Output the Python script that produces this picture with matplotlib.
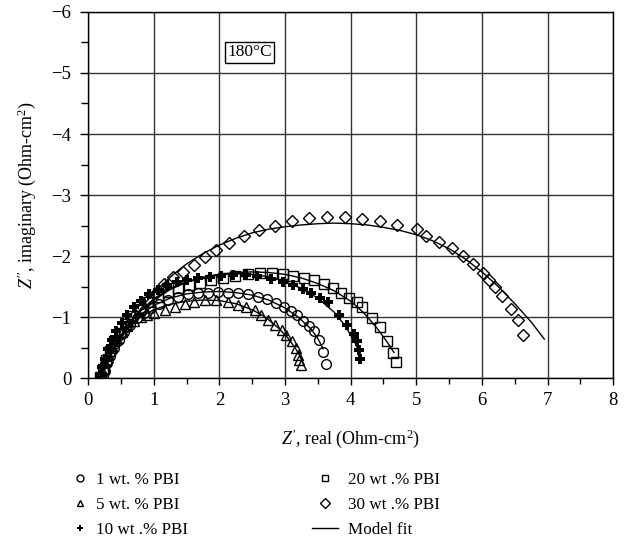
import matplotlib
matplotlib.use("Agg")
import matplotlib.pyplot as plt
from matplotlib.ticker import MultipleLocator
from matplotlib.lines import Line2D

plt.rcParams['font.family'] = ['Liberation Serif', 'DejaVu Serif']
plt.rcParams['mathtext.fontset'] = 'custom'
plt.rcParams['mathtext.rm'] = 'Liberation Serif'
plt.rcParams['mathtext.it'] = 'Liberation Serif:italic'

# ---- data (Z' real, Z'' imaginary), Ohm-cm^2 ----
x1 = [0.22,0.25,0.29,0.34,0.40,0.47,0.55,0.64,0.74,0.85,0.96,1.08,1.22,1.37,1.52,1.67,1.83,1.98,2.13,2.28,2.44,2.59,2.72,2.87,2.99,3.09,3.19,3.28,3.36,3.44,3.52,3.58,3.63]
y1 = [-0.02,-0.12,-0.24,-0.37,-0.50,-0.63,-0.75,-0.87,-0.98,-1.07,-1.15,-1.22,-1.28,-1.33,-1.37,-1.39,-1.40,-1.41,-1.40,-1.39,-1.37,-1.33,-1.29,-1.23,-1.17,-1.10,-1.03,-0.94,-0.86,-0.77,-0.62,-0.43,-0.23]

x5 = [0.18,0.21,0.25,0.30,0.36,0.43,0.51,0.60,0.70,0.80,0.90,1.01,1.17,1.32,1.47,1.62,1.78,1.95,2.13,2.28,2.41,2.54,2.64,2.74,2.84,2.95,3.02,3.10,3.16,3.20,3.22,3.25]
y5 = [-0.03,-0.14,-0.27,-0.40,-0.53,-0.65,-0.76,-0.86,-0.94,-1.00,-1.04,-1.06,-1.11,-1.17,-1.22,-1.25,-1.28,-1.28,-1.25,-1.20,-1.16,-1.11,-1.04,-0.96,-0.87,-0.79,-0.70,-0.60,-0.49,-0.38,-0.30,-0.21]

x10 = [0.18,0.21,0.25,0.30,0.36,0.43,0.51,0.60,0.70,0.81,0.93,1.06,1.20,1.35,1.51,1.68,1.85,2.03,2.21,2.40,2.58,2.78,2.97,3.12,3.27,3.40,3.53,3.66,3.82,3.95,4.05,4.10,4.13,4.15]
y10 = [-0.05,-0.18,-0.32,-0.47,-0.62,-0.77,-0.91,-1.04,-1.16,-1.27,-1.37,-1.45,-1.52,-1.57,-1.61,-1.64,-1.66,-1.68,-1.69,-1.69,-1.67,-1.63,-1.58,-1.52,-1.46,-1.39,-1.32,-1.24,-1.04,-0.87,-0.72,-0.60,-0.46,-0.31]

x20 = [0.18,0.22,0.27,0.33,0.40,0.48,0.57,0.67,0.79,0.92,1.06,1.21,1.37,1.53,1.70,1.87,2.05,2.24,2.43,2.62,2.80,2.97,3.12,3.29,3.44,3.59,3.73,3.86,3.98,4.09,4.17,4.33,4.44,4.55,4.65,4.69]
y20 = [-0.02,-0.15,-0.30,-0.45,-0.60,-0.74,-0.88,-1.01,-1.13,-1.24,-1.33,-1.41,-1.47,-1.52,-1.56,-1.60,-1.64,-1.67,-1.70,-1.72,-1.72,-1.70,-1.68,-1.64,-1.60,-1.54,-1.48,-1.40,-1.32,-1.24,-1.16,-0.99,-0.83,-0.61,-0.41,-0.26]

x30 = [0.20,0.24,0.29,0.35,0.42,0.50,0.59,0.69,0.80,0.92,1.03,1.15,1.29,1.45,1.61,1.78,1.95,2.14,2.37,2.60,2.84,3.10,3.36,3.64,3.91,4.18,4.44,4.70,5.01,5.15,5.35,5.55,5.71,5.87,6.01,6.11,6.20,6.30,6.44,6.55,6.63]
y30 = [0.00,-0.12,-0.27,-0.42,-0.57,-0.72,-0.86,-1.00,-1.14,-1.28,-1.40,-1.54,-1.66,-1.74,-1.85,-1.98,-2.10,-2.22,-2.33,-2.43,-2.50,-2.57,-2.62,-2.64,-2.64,-2.61,-2.57,-2.51,-2.45,-2.33,-2.23,-2.13,-2.00,-1.87,-1.73,-1.61,-1.50,-1.34,-1.14,-0.95,-0.70]

# model fit curves
fx1 = [0.2,0.3,0.45,0.6,0.8,1.0,1.25,1.5,1.75,2.0,2.25,2.5,2.75,3.0,3.2,3.4,3.5,3.58]
fy1 = [0,-0.28,-0.58,-0.82,-1.04,-1.19,-1.31,-1.38,-1.41,-1.42,-1.40,-1.36,-1.28,-1.15,-1.0,-0.80,-0.65,-0.48]
fx5 = [0.18,0.3,0.45,0.6,0.8,1.0,1.25,1.5,1.75,2.0,2.25,2.5,2.7,2.9,3.05,3.15,3.22,3.26]
fy5 = [0,-0.3,-0.58,-0.8,-1.0,-1.12,-1.21,-1.26,-1.28,-1.27,-1.22,-1.12,-1.0,-0.82,-0.65,-0.50,-0.38,-0.28]
fx10 = [0.18,0.3,0.45,0.6,0.8,1.0,1.25,1.5,1.75,2.0,2.25,2.5,2.75,3.0,3.25,3.5,3.75,3.9,4.05,4.13]
fy10 = [0,-0.32,-0.62,-0.87,-1.1,-1.3,-1.47,-1.58,-1.65,-1.70,-1.71,-1.70,-1.66,-1.58,-1.47,-1.31,-1.08,-0.88,-0.62,-0.42]
fx20 = [0.18,0.3,0.45,0.6,0.8,1.0,1.25,1.5,1.75,2.0,2.25,2.5,2.75,3.0,3.25,3.5,3.75,4.0,4.2,4.4,4.55,4.66]
fy20 = [0,-0.3,-0.6,-0.85,-1.1,-1.28,-1.45,-1.57,-1.65,-1.70,-1.73,-1.74,-1.73,-1.70,-1.64,-1.55,-1.43,-1.26,-1.07,-0.82,-0.60,-0.42]
fx30 = [0.18,0.25,0.35,0.5,0.7,0.9,1.1,1.3,1.5,1.75,2.0,2.25,2.5,2.75,3.0,3.25,3.5,3.75,4.0,4.25,4.5,4.75,5.0,5.25,5.5,5.75,6.0,6.25,6.5,6.75,6.95]
fy30 = [0,-0.15,-0.38,-0.68,-1.0,-1.27,-1.50,-1.70,-1.87,-2.04,-2.18,-2.29,-2.38,-2.44,-2.48,-2.51,-2.53,-2.54,-2.53,-2.51,-2.47,-2.42,-2.35,-2.25,-2.12,-1.95,-1.74,-1.5,-1.22,-0.92,-0.64]

labels = ['1 wt. % PBI', '5 wt. % PBI', '10 wt .% PBI', '20 wt .% PBI', '30 wt .% PBI', 'Model fit']

fig = plt.figure(figsize=(6.27, 5.44), dpi=100)
ax = fig.add_axes([0.1405, 0.305, 0.8375, 0.673])

for fx, fy in [(fx1, fy1), (fx5, fy5), (fx10, fy10), (fx20, fy20), (fx30, fy30)]:
    ax.plot(fx, fy, color='black', lw=1.0, zorder=3)

mk = dict(linestyle='none', markerfacecolor='none', markeredgecolor='black', markeredgewidth=1.0, zorder=4)
ax.plot(x1, y1, marker='o', markersize=7, **mk)
ax.plot(x5, y5, marker='^', markersize=7, **mk)
ax.plot(x10, y10, marker='P', markersize=6.5, linestyle='none', color='black', markeredgewidth=0, zorder=4)
ax.plot(x20, y20, marker='s', markersize=6.5, **mk)
ax.plot(x30, y30, marker='D', markersize=6.5, **mk)

ax.set_xlim(0, 8)
ax.set_ylim(0, -6)
ax.xaxis.set_major_locator(MultipleLocator(1))
ax.xaxis.set_minor_locator(MultipleLocator(0.5))
ax.yaxis.set_major_locator(MultipleLocator(1))
ax.yaxis.set_minor_locator(MultipleLocator(0.5))
ax.grid(True, which='major', color='#333333', lw=1.0, zorder=0)
ax.tick_params(which='both', direction='out', labelsize=13.5, width=1, colors='black')
ax.tick_params(axis='x', which='major', length=5, pad=5)
ax.tick_params(axis='x', which='minor', length=4)
ax.tick_params(axis='y', which='major', length=6, pad=6)
ax.tick_params(axis='y', which='minor', length=5)
for s in ax.spines.values():
    s.set_color('black')
    s.set_linewidth(1.0)

ax.set_xlabel(r"$Z'$, real (Ohm-cm$^2$)", fontsize=13, labelpad=13)
ax.set_ylabel(r"$Z''$, imaginary (Ohm-cm$^2$)", fontsize=13, labelpad=10)

ax.text(2.46, -5.34, '180°C', fontsize=12.5, ha='center', va='center',
        bbox=dict(boxstyle='square,pad=0.15', facecolor='white', edgecolor='black', lw=1.0), zorder=6)

lmk = dict(linestyle='none', markerfacecolor='none', markeredgecolor='black', markeredgewidth=1.0)
h1 = [
    Line2D([], [], marker='o', markersize=5, **lmk),
    Line2D([], [], marker='^', markersize=5, **lmk),
    Line2D([], [], marker='P', markersize=5, linestyle='none', color='black', markeredgewidth=0),
]
h2 = [
    Line2D([], [], marker='s', markersize=5, **lmk),
    Line2D([], [], marker='D', markersize=5, **lmk),
    Line2D([], [], color='black', lw=1.0),
]
W, H = 627.0, 544.0
fig.legend(h1, labels[:3], loc='upper left', bbox_to_anchor=(58 / W, 1 - 463 / H),
           frameon=False, fontsize=12.3, handlelength=1.55, handletextpad=0.2,
           labelspacing=0.55, borderpad=0)
fig.legend(h2, labels[3:], loc='upper left', bbox_to_anchor=(303 / W, 1 - 463 / H),
           frameon=False, fontsize=12.3, handlelength=1.55, handletextpad=0.6,
           labelspacing=0.55, borderpad=0)

fig.savefig('out.png', dpi=100)
